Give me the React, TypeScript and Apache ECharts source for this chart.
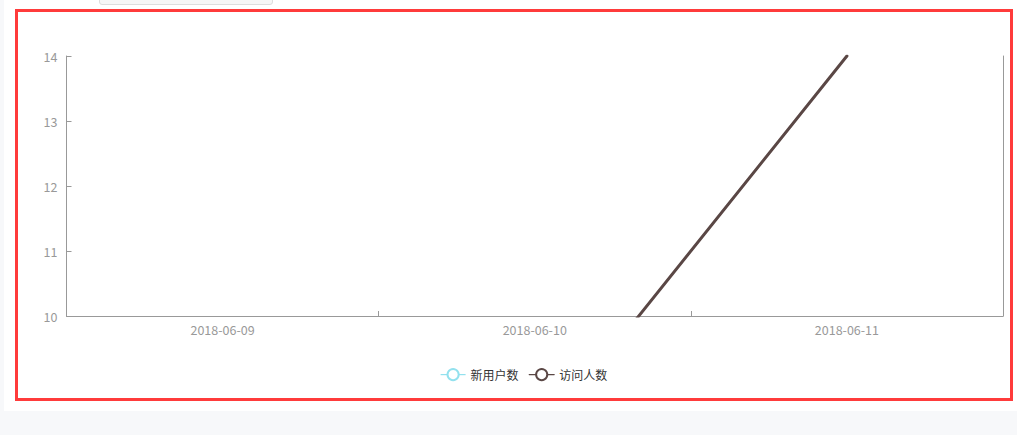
import { useEffect, useRef } from "react";
import * as echarts from "echarts";

const dates = ["2018-06-09", "2018-06-10", "2018-06-11"];
const newUsers = [0, 0, 0];
const visitors = [3, 8, 14];
const seriesNames = ["新用户数", "访问人数"];
const seriesColors = ["#93e1ee", "#5a4745"];

export default function App(): JSX.Element {
  const chartEl = useRef<HTMLDivElement | null>(null);

  useEffect(() => {
    document.body.style.margin = "0";
    if (!chartEl.current) return undefined;
    const chart = echarts.init(chartEl.current, undefined, { renderer: "svg" });

    const axisLine = { show: true, lineStyle: { color: "#999" } };

    chart.setOption({
      animation: false,
      color: seriesColors,
      textStyle: { fontFamily: "'Noto Sans CJK SC', 'Noto Sans', sans-serif" },
      grid: { left: 48.5, right: 7, top: 44, bottom: 82 },
      legend: {
        left: 417,
        top: 351,
        itemWidth: 25,
        itemHeight: 14,
        itemGap: 10,
        textStyle: { color: "#333", fontSize: 12 },
        lineStyle: { width: 1.2 },
        itemStyle: { borderWidth: 1.2 },
        data: seriesNames
      },
      xAxis: {
        type: "category",
        data: dates,
        boundaryGap: true,
        axisLine,
        axisTick: { show: true, inside: true, lineStyle: { color: "#999" } },
        axisLabel: { color: "#999", fontSize: 12.5, margin: 7 },
        splitLine: { show: false }
      },
      yAxis: [
        {
          type: "value",
          min: 10,
          max: 14,
          interval: 1,
          axisLine,
          axisTick: { show: true, inside: true, lineStyle: { color: "#999" } },
          axisLabel: { color: "#999", fontSize: 12.5, margin: 9 },
          splitLine: { show: false }
        },
        {
          type: "value",
          position: "right",
          min: 10,
          max: 14,
          interval: 1,
          axisLine,
          axisTick: { show: false },
          axisLabel: { show: false },
          splitLine: { show: false }
        }
      ],
      series: [
        {
          name: seriesNames[0],
          type: "line",
          data: newUsers,
          symbol: "emptyCircle",
          symbolSize: 8,
          showSymbol: false,
          lineStyle: { width: 3 }
        },
        {
          name: seriesNames[1],
          type: "line",
          data: visitors,
          symbol: "emptyCircle",
          symbolSize: 8,
          showSymbol: false,
          lineStyle: { width: 3, cap: "round" }
        }
      ]
    });

    return () => {
      chart.dispose();
    };
  }, []);

  return (
    <div
      style={{
        position: "absolute",
        left: 0,
        top: 0,
        width: 1017,
        height: 435,
        background: "#f7f8fa",
        overflow: "hidden"
      }}
    >
      <div
        style={{
          position: "absolute",
          left: 4,
          top: 0,
          width: 1013,
          height: 411,
          background: "#fff"
        }}
      />
      <div
        style={{
          position: "absolute",
          left: 99,
          top: -10,
          width: 172,
          height: 13,
          border: "1px solid #ddd",
          borderRadius: 3,
          background: "#f6f6f6"
        }}
      />
      <div
        style={{
          position: "absolute",
          left: 15,
          top: 9,
          width: 992,
          height: 386,
          border: "3px solid #ff3b3b",
          background: "#fff"
        }}
      >
        <div ref={chartEl} style={{ width: 992, height: 386 }} />
      </div>
    </div>
  );
}
